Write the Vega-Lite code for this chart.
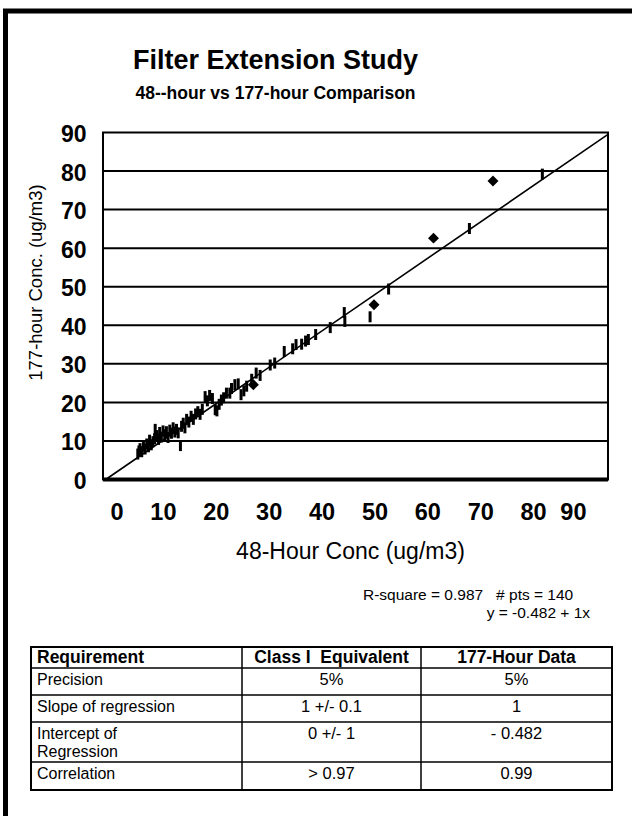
{
  "$schema": "https://vega.github.io/schema/vega-lite/v6.json",
  "width": 632,
  "height": 812,
  "autosize": {"type": "none"},
  "padding": {"left": 5.5, "top": 11, "right": -5.5, "bottom": -7},
  "background": "white",
  "config": {
    "font": "Liberation Sans",
    "view": {"stroke": "black", "strokeWidth": 5},
    "text": {"font": "Liberation Sans", "color": "black"}
  },
  "title": {
    "text": "Filter Extension Study",
    "subtitle": "48--hour vs 177-hour Comparison",
    "font": "Liberation Sans",
    "fontSize": 27,
    "fontWeight": "bold",
    "color": "black",
    "subtitleFont": "Liberation Sans",
    "subtitleFontSize": 17.5,
    "subtitleFontWeight": "bold",
    "subtitleColor": "black",
    "subtitlePadding": 10,
    "anchor": "middle",
    "frame": "group",
    "offset": -92,
    "dx": -46
  },
  "datasets": {
    "samples": [
      {"h48": 6.2, "h177": 6.6, "series": "A"},
      {"h48": 6.4, "h177": 7.4, "series": "A"},
      {"h48": 6.6, "h177": 8.0, "series": "A"},
      {"h48": 6.9, "h177": 7.2, "series": "A"},
      {"h48": 7.2, "h177": 8.6, "series": "A"},
      {"h48": 7.5, "h177": 7.9, "series": "A"},
      {"h48": 7.8, "h177": 9.2, "series": "A"},
      {"h48": 8.1, "h177": 8.5, "series": "A"},
      {"h48": 8.3, "h177": 10.2, "series": "A"},
      {"h48": 8.6, "h177": 9.0, "series": "A"},
      {"h48": 8.9, "h177": 9.8, "series": "A"},
      {"h48": 9.2, "h177": 10.6, "series": "A"},
      {"h48": 9.3, "h177": 13.0, "series": "A"},
      {"h48": 9.6, "h177": 11.4, "series": "A"},
      {"h48": 9.9, "h177": 10.4, "series": "A"},
      {"h48": 10.1, "h177": 12.2, "series": "A"},
      {"h48": 10.4, "h177": 11.0, "series": "A"},
      {"h48": 10.7, "h177": 12.6, "series": "A"},
      {"h48": 11.0, "h177": 11.6, "series": "A"},
      {"h48": 11.3, "h177": 12.4, "series": "A"},
      {"h48": 11.6, "h177": 10.9, "series": "A"},
      {"h48": 11.9, "h177": 12.8, "series": "A"},
      {"h48": 12.2, "h177": 12.0, "series": "A"},
      {"h48": 12.5, "h177": 13.4, "series": "A"},
      {"h48": 12.8, "h177": 12.3, "series": "A"},
      {"h48": 13.1, "h177": 13.0, "series": "A"},
      {"h48": 13.4, "h177": 12.1, "series": "A"},
      {"h48": 13.8, "h177": 8.8, "series": "A"},
      {"h48": 14.0, "h177": 13.8, "series": "A"},
      {"h48": 14.3, "h177": 14.6, "series": "A"},
      {"h48": 14.6, "h177": 13.4, "series": "A"},
      {"h48": 14.9, "h177": 15.6, "series": "A"},
      {"h48": 15.3, "h177": 14.9, "series": "A"},
      {"h48": 15.7, "h177": 16.4, "series": "A"},
      {"h48": 16.1, "h177": 15.6, "series": "A"},
      {"h48": 16.5, "h177": 17.0, "series": "A"},
      {"h48": 16.9, "h177": 17.6, "series": "A"},
      {"h48": 17.3, "h177": 16.9, "series": "A"},
      {"h48": 17.7, "h177": 18.2, "series": "A"},
      {"h48": 18.2, "h177": 21.5, "series": "A"},
      {"h48": 18.6, "h177": 20.4, "series": "A"},
      {"h48": 19.0, "h177": 21.8, "series": "A"},
      {"h48": 19.5, "h177": 21.0, "series": "A"},
      {"h48": 20.0, "h177": 18.1, "series": "A"},
      {"h48": 20.3, "h177": 17.8, "series": "A"},
      {"h48": 20.7, "h177": 19.5, "series": "A"},
      {"h48": 21.1, "h177": 20.6, "series": "A"},
      {"h48": 21.5, "h177": 21.2, "series": "A"},
      {"h48": 22.0, "h177": 22.4, "series": "A"},
      {"h48": 22.6, "h177": 22.4, "series": "A"},
      {"h48": 22.9, "h177": 23.6, "series": "A"},
      {"h48": 23.5, "h177": 24.6, "series": "A"},
      {"h48": 24.1, "h177": 24.8, "series": "A"},
      {"h48": 24.6, "h177": 22.0, "series": "A"},
      {"h48": 25.1, "h177": 23.0, "series": "A"},
      {"h48": 25.6, "h177": 24.2, "series": "A"},
      {"h48": 26.5, "h177": 26.0, "series": "A"},
      {"h48": 27.3, "h177": 27.6, "series": "A"},
      {"h48": 28.0, "h177": 27.0, "series": "A"},
      {"h48": 29.8, "h177": 29.7, "series": "A"},
      {"h48": 30.6, "h177": 30.2, "series": "A"},
      {"h48": 32.3, "h177": 33.2, "series": "A"},
      {"h48": 33.8, "h177": 33.9, "series": "A"},
      {"h48": 34.4, "h177": 35.0, "series": "A"},
      {"h48": 35.4, "h177": 35.1, "series": "A"},
      {"h48": 36.1, "h177": 35.9, "series": "A"},
      {"h48": 36.6, "h177": 36.3, "series": "A"},
      {"h48": 37.9, "h177": 37.6, "series": "A"},
      {"h48": 40.5, "h177": 39.4, "series": "A"},
      {"h48": 43.0, "h177": 43.3, "series": "A"},
      {"h48": 43.1, "h177": 41.0, "series": "A"},
      {"h48": 47.6, "h177": 42.2, "series": "A"},
      {"h48": 50.9, "h177": 49.4, "series": "A"},
      {"h48": 65.3, "h177": 65.1, "series": "A"},
      {"h48": 78.3, "h177": 79.2, "series": "A"},
      {"h48": 26.8, "h177": 24.6, "series": "B"},
      {"h48": 48.3, "h177": 45.3, "series": "B"},
      {"h48": 58.9, "h177": 62.6, "series": "B"},
      {"h48": 69.5, "h177": 77.4, "series": "B"}
    ],
    "gridlines": [
      {"h177": 10}, {"h177": 20}, {"h177": 30}, {"h177": 40},
      {"h177": 50}, {"h177": 60}, {"h177": 70}, {"h177": 80}
    ],
    "xticks": [
      {"tick": 0}, {"tick": 10}, {"tick": 20}, {"tick": 30}, {"tick": 40},
      {"tick": 50}, {"tick": 60}, {"tick": 70}, {"tick": 80}, {"tick": 90}
    ],
    "fit": [
      {"h48": 0.482, "h177": 0},
      {"h48": 90, "h177": 89.518}
    ],
    "summary": [
      {"line": "quality", "label": "R-square = 0.987\u00a0\u00a0 # pts = 140"},
      {"line": "equation", "label": "y = -0.482 + 1x"}
    ],
    "requirements": [
      {"row": 0, "requirement": "Requirement", "classI": "Class I\u00a0 Equivalent", "hour177": "177-Hour Data"},
      {"row": 1, "requirement": "Precision", "classI": "5%", "hour177": "5%"},
      {"row": 2, "requirement": "Slope of regression", "classI": "1 +/- 0.1", "hour177": "1"},
      {"row": 3, "requirement": "Intercept of\nRegression", "classI": "0 +/- 1", "hour177": "- 0.482"},
      {"row": 4, "requirement": "Correlation", "classI": "> 0.97", "hour177": "0.99"}
    ]
  },
  "layer": [
    {
      "layer": [
        {
          "data": {"name": "gridlines"},
          "mark": {"type": "rule", "stroke": "black", "strokeWidth": 2},
          "encoding": {
            "x": {"datum": 0, "type": "quantitative", "scale": {"domain": [0, 90], "range": [97.5, 602.5], "nice": false, "zero": false}, "axis": null},
            "x2": {"datum": 90},
            "y": {"field": "h177", "type": "quantitative", "scale": {"domain": [0, 90], "range": [468.5, 121.5], "nice": false, "zero": false}}
          }
        },
        {
          "data": {"values": [{}]},
          "mark": {"type": "rect", "filled": false, "stroke": "black", "strokeWidth": 2},
          "encoding": {
            "x": {"datum": 0, "type": "quantitative", "axis": null},
            "x2": {"datum": 90},
            "y": {"datum": 0, "type": "quantitative"},
            "y2": {"datum": 90}
          }
        },
        {
          "data": {"values": [{}]},
          "mark": {"type": "rule", "stroke": "black", "strokeWidth": 4},
          "encoding": {
            "x": {"datum": 0, "type": "quantitative", "axis": null},
            "x2": {"datum": 90},
            "y": {"datum": 0, "type": "quantitative"}
          }
        },
        {
          "data": {"name": "fit"},
          "mark": {"type": "line", "stroke": "black", "strokeWidth": 1.6},
          "encoding": {
            "x": {"field": "h48", "type": "quantitative", "axis": null},
            "y": {"field": "h177", "type": "quantitative"}
          }
        },
        {
          "data": {"name": "samples"},
          "transform": [{"filter": "datum.series == 'A'"}],
          "mark": {"type": "tick", "orient": "vertical", "size": 11, "thickness": 3, "color": "black", "opacity": 1},
          "encoding": {
            "x": {
              "field": "h48",
              "type": "quantitative",
              "scale": {"domain": [0, 90], "range": [97.5, 602.5], "nice": false, "zero": false},
              "axis": null
            },
            "y": {
              "field": "h177",
              "type": "quantitative",
              "scale": {"domain": [0, 90], "range": [468.5, 121.5], "nice": false, "zero": false},
              "axis": {
                "title": "177-hour Conc. (ug/m3)",
                "orient": "left",
                "offset": -97.5,
                "values": [0, 10, 20, 30, 40, 50, 60, 70, 80, 90],
                "grid": false,
                "domain": false,
                "ticks": false,
                "tickSize": 0,
                "labelFont": "Liberation Sans",
                "labelFontSize": 23,
                "labelFontWeight": "bold",
                "labelColor": "black",
                "labelPadding": 17,
                "labelOffset": 2,
                "titleFont": "Liberation Sans",
                "titleFontSize": 18.5,
                "titleFontWeight": "normal",
                "titleColor": "black",
                "titlePadding": 15,
                "titleY": 271
              }
            }
          }
        },
        {
          "data": {"name": "samples"},
          "transform": [{"filter": "datum.series == 'B'"}],
          "mark": {"type": "point", "shape": "diamond", "filled": true, "size": 120, "color": "black", "opacity": 1},
          "encoding": {
            "x": {"field": "h48", "type": "quantitative", "axis": null},
            "y": {"field": "h177", "type": "quantitative"}
          }
        },
        {
          "data": {"name": "summary"},
          "transform": [{"filter": "datum.line == 'quality'"}],
          "mark": {"type": "text", "align": "right", "baseline": "top", "fontSize": 15.5},
          "encoding": {
            "x": {"datum": 83.8, "type": "quantitative", "axis": null},
            "y": {"datum": -28.1, "type": "quantitative"},
            "text": {"field": "label"}
          }
        },
        {
          "data": {"name": "summary"},
          "transform": [{"filter": "datum.line == 'equation'"}],
          "mark": {"type": "text", "align": "right", "baseline": "top", "fontSize": 15.5},
          "encoding": {
            "x": {"datum": 86.8, "type": "quantitative", "axis": null},
            "y": {"datum": -32.8, "type": "quantitative"},
            "text": {"field": "label"}
          }
        }
      ]
    },
    {
      "layer": [
        {
          "data": {"name": "xticks"},
          "mark": {"type": "rule", "opacity": 0},
          "encoding": {
            "x": {
              "field": "tick",
              "type": "quantitative",
              "scale": {"domain": [0, 90], "range": [104.5, 580.5], "nice": false, "zero": false},
              "axis": {
                "title": "48-Hour Conc (ug/m3)",
                "orient": "bottom",
                "offset": -343.5,
                "values": [0, 10, 20, 30, 40, 50, 60, 70, 80, 90],
                "grid": false,
                "domain": false,
                "ticks": false,
                "tickSize": 0,
                "labelFont": "Liberation Sans",
                "labelFontSize": 23.5,
                "labelFontWeight": "bold",
                "labelColor": "black",
                "labelPadding": 21,
                "titleFont": "Liberation Sans",
                "titleFontSize": 23,
                "titleFontWeight": "normal",
                "titleColor": "black",
                "titlePadding": 16,
                "titleX": 344.5
              }
            }
          }
        }
      ]
    },
    {
      "layer": [
        {
          "data": {"values": [{}]},
          "mark": {"type": "rect", "filled": false, "stroke": "black", "strokeWidth": 2},
          "encoding": {
            "x": {"datum": 0, "type": "quantitative", "scale": {"domain": [0, 1, 2, 3], "range": [25.5, 236.5, 415.5, 606.5], "nice": false, "zero": false}, "axis": null},
            "x2": {"datum": 3},
            "y": {"datum": 0, "type": "quantitative", "scale": {"domain": [0, 1, 2, 3, 4, 5], "range": [636, 657, 684, 711, 751, 779], "nice": false, "zero": false}, "axis": null},
            "y2": {"datum": 5}
          }
        },
        {
          "data": {"values": [{}]},
          "mark": {"type": "rule", "stroke": "black", "strokeWidth": 1.5},
          "encoding": {
            "x": {"datum": 1, "type": "quantitative", "axis": null},
            "y": {"datum": 0, "type": "quantitative", "axis": null},
            "y2": {"datum": 5}
          }
        },
        {
          "data": {"values": [{}]},
          "mark": {"type": "rule", "stroke": "black", "strokeWidth": 1.5},
          "encoding": {
            "x": {"datum": 2, "type": "quantitative", "axis": null},
            "y": {"datum": 0, "type": "quantitative", "axis": null},
            "y2": {"datum": 5}
          }
        },
        {
          "data": {"name": "requirements"},
          "transform": [{"filter": "datum.row > 0"}],
          "mark": {"type": "rule", "stroke": "black", "strokeWidth": 1.5},
          "encoding": {
            "x": {"datum": 0, "type": "quantitative", "axis": null},
            "x2": {"datum": 3},
            "y": {"field": "row", "type": "quantitative", "axis": null}
          }
        },
        {
          "data": {"name": "requirements"},
          "transform": [{"filter": "datum.row == 0"}],
          "mark": {"type": "text", "align": "left", "baseline": "top", "dx": 6, "dy": 2, "fontSize": 17.5, "fontWeight": "bold"},
          "encoding": {
            "x": {"datum": 0, "type": "quantitative", "axis": null},
            "y": {"field": "row", "type": "quantitative", "axis": null},
            "text": {"field": "requirement"}
          }
        },
        {
          "data": {"name": "requirements"},
          "transform": [{"filter": "datum.row == 0"}],
          "mark": {"type": "text", "align": "center", "baseline": "top", "dy": 2, "fontSize": 17.5, "fontWeight": "bold"},
          "encoding": {
            "x": {"datum": 1.5, "type": "quantitative", "axis": null},
            "y": {"field": "row", "type": "quantitative", "axis": null},
            "text": {"field": "classI"}
          }
        },
        {
          "data": {"name": "requirements"},
          "transform": [{"filter": "datum.row == 0"}],
          "mark": {"type": "text", "align": "center", "baseline": "top", "dy": 2, "fontSize": 17.5, "fontWeight": "bold"},
          "encoding": {
            "x": {"datum": 2.5, "type": "quantitative", "axis": null},
            "y": {"field": "row", "type": "quantitative", "axis": null},
            "text": {"field": "hour177"}
          }
        },
        {
          "data": {"name": "requirements"},
          "transform": [{"filter": "datum.row > 0"}],
          "mark": {"type": "text", "align": "left", "baseline": "top", "dx": 6, "dy": 4, "fontSize": 16, "lineHeight": 17.5, "lineBreak": "\n"},
          "encoding": {
            "x": {"datum": 0, "type": "quantitative", "axis": null},
            "y": {"field": "row", "type": "quantitative", "axis": null},
            "text": {"field": "requirement"}
          }
        },
        {
          "data": {"name": "requirements"},
          "transform": [{"filter": "datum.row > 0"}],
          "mark": {"type": "text", "align": "center", "baseline": "top", "dy": 4, "fontSize": 16.5},
          "encoding": {
            "x": {"datum": 1.5, "type": "quantitative", "axis": null},
            "y": {"field": "row", "type": "quantitative", "axis": null},
            "text": {"field": "classI"}
          }
        },
        {
          "data": {"name": "requirements"},
          "transform": [{"filter": "datum.row > 0"}],
          "mark": {"type": "text", "align": "center", "baseline": "top", "dy": 4, "fontSize": 16.5},
          "encoding": {
            "x": {"datum": 2.5, "type": "quantitative", "axis": null},
            "y": {"field": "row", "type": "quantitative", "axis": null},
            "text": {"field": "hour177"}
          }
        }
      ]
    }
  ],
  "resolve": {"scale": {"x": "independent", "y": "independent"}}
}
